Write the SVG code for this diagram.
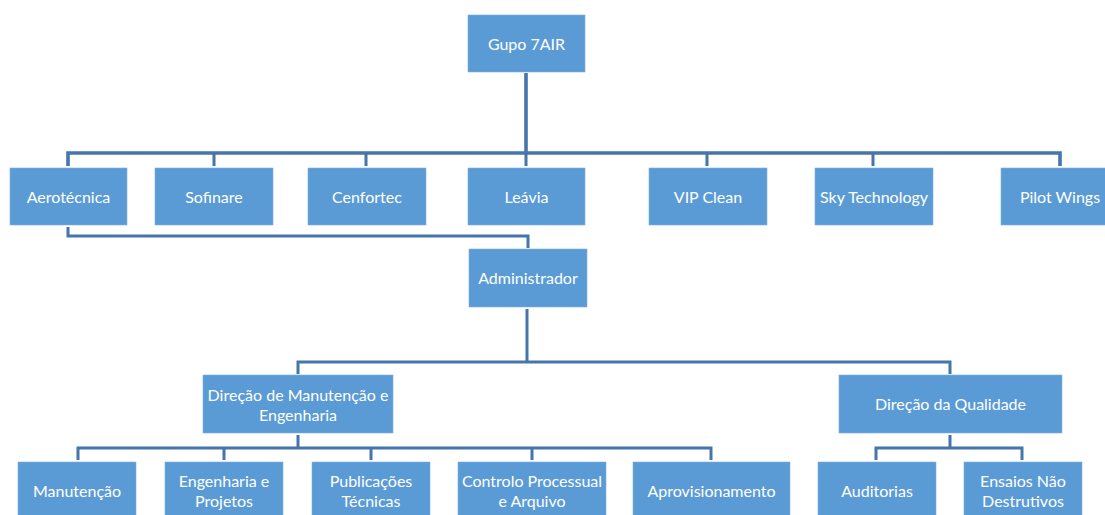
<svg xmlns="http://www.w3.org/2000/svg" width="1105" height="515" viewBox="0 0 1105 515">
<style>
.box{fill:#5B9BD5;stroke:#7FB0E0;stroke-width:0.6}
.t{font-family:Lato,"Liberation Sans",sans-serif;font-size:16px;fill:#FFFFFF;text-anchor:middle;dominant-baseline:central}
.c{fill:none;stroke:#4575AB;stroke-width:3;stroke-linecap:butt;stroke-linejoin:miter}
.trunk{stroke-width:3.6}
</style>
<rect width="1105" height="515" fill="#FFFFFF"/>
<g id="connectors">
<path class="c trunk" d="M526 73V153M68 166V153H1060V166"/>
<path class="c" d="M214 153V166M366 153V166M526 153V166M707 153V166M873 153V166"/>
<path class="c" d="M68 227V236H528V248"/>
<path class="c" d="M527 309V362M298 374V362H950V374"/>
<path class="c" d="M298 435V448M78 460V448H711V460M224 448V460M371 448V460M532 448V460"/>
<path class="c" d="M950 435V448M876 460V448H1022V460"/>
</g>
<g id="n_gupo"><rect class="box" x="468" y="15" width="117" height="57"/><text class="t" x="526.5" y="43">Gupo 7AIR</text></g>
<g id="n_aerotecnica"><rect class="box" x="10" y="168" width="117" height="57"/><text class="t" x="68.5" y="196">Aerotécnica</text></g>
<g id="n_sofinare"><rect class="box" x="155" y="168" width="118" height="57"/><text class="t" x="214" y="196">Sofinare</text></g>
<g id="n_cenfortec"><rect class="box" x="308" y="168" width="118" height="57"/><text class="t" x="367" y="196">Cenfortec</text></g>
<g id="n_leavia"><rect class="box" x="468" y="168" width="117" height="57"/><text class="t" x="526.5" y="196">Leávia</text></g>
<g id="n_vipclean"><rect class="box" x="649" y="168" width="118" height="57"/><text class="t" x="708" y="196">VIP Clean</text></g>
<g id="n_skytech"><rect class="box" x="815" y="168" width="118" height="57"/><text class="t" x="874" y="196">Sky Technology</text></g>
<g id="n_pilotwings"><rect class="box" x="1001" y="168" width="118" height="57"/><text class="t" x="1060" y="196">Pilot Wings</text></g>
<g id="n_admin"><rect class="box" x="469" y="249" width="118" height="58"/><text class="t" x="528" y="277.5">Administrador</text></g>
<g id="n_dme"><rect class="box" x="203" y="375" width="190" height="58"/><text class="t" x="298" y="394.5">Direção de Manutenção e</text><text class="t" x="298" y="414.5">Engenharia</text></g>
<g id="n_dq"><rect class="box" x="839" y="375" width="223" height="58"/><text class="t" x="950.5" y="403.5">Direção da Qualidade</text></g>
<g id="n_manutencao"><rect class="box" x="18" y="462" width="118" height="58"/><text class="t" x="77" y="490.5">Manutenção</text></g>
<g id="n_engenharia"><rect class="box" x="165" y="462" width="118" height="58"/><text class="t" x="224" y="480.5">Engenharia e</text><text class="t" x="224" y="500.5">Projetos</text></g>
<g id="n_publicacoes"><rect class="box" x="312" y="462" width="118" height="58"/><text class="t" x="371" y="480.5">Publicações</text><text class="t" x="371" y="500.5">Técnicas</text></g>
<g id="n_controlo"><rect class="box" x="458" y="462" width="148" height="58"/><text class="t" x="532" y="480.5">Controlo Processual</text><text class="t" x="532" y="500.5">e Arquivo</text></g>
<g id="n_aprovisionamento"><rect class="box" x="633" y="462" width="157" height="58"/><text class="t" x="711.5" y="490.5">Aprovisionamento</text></g>
<g id="n_auditorias"><rect class="box" x="818" y="462" width="118" height="58"/><text class="t" x="877" y="490.5">Auditorias</text></g>
<g id="n_ensaios"><rect class="box" x="964" y="462" width="118" height="58"/><text class="t" x="1023" y="480.5">Ensaios Não</text><text class="t" x="1023" y="500.5">Destrutivos</text></g>
</svg>
